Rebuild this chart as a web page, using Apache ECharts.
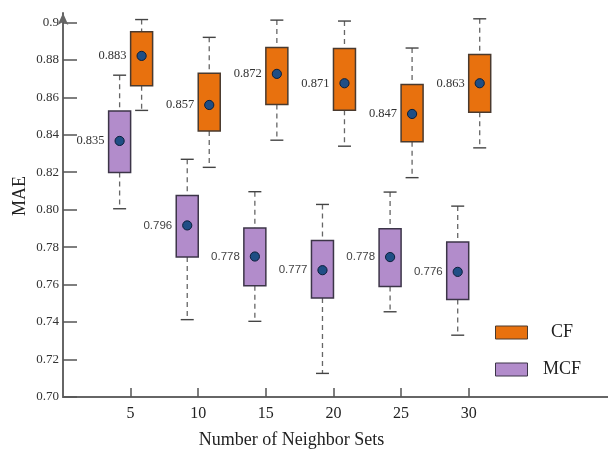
<!DOCTYPE html>
<html>
<head>
<meta charset="utf-8">
<script src="https://cdn.jsdelivr.net/npm/echarts@6/dist/echarts.min.js"></script>
<style>html,body{margin:0;padding:0;background:#fff}#c{width:608px;height:461px}</style>
</head>
<body>
<div id="c"></div>
<script>
// ---- data ----
var categories = [5, 10, 15, 20, 25, 30];
var cfMax = [0.9015, 0.8920, 0.9012, 0.9007, 0.8863, 0.9019];
var cfQ3  = [0.8950, 0.8729, 0.8866, 0.8861, 0.8668, 0.8829];
var cfMid = [0.8821, 0.8559, 0.8725, 0.8675, 0.8511, 0.8675];
var cfQ1  = [0.8661, 0.8420, 0.8561, 0.8531, 0.8362, 0.8520];
var cfMin = [0.8530, 0.8226, 0.8371, 0.8339, 0.8171, 0.8330];
var cfLabels = ['0.883', '0.857', '0.872', '0.871', '0.847', '0.863'];

var mcfMax = [0.8718, 0.8269, 0.8096, 0.8028, 0.8094, 0.8019];
var mcfQ3  = [0.8527, 0.8076, 0.7902, 0.7836, 0.7898, 0.7827];
var mcfMid = [0.8367, 0.7916, 0.7750, 0.7677, 0.7747, 0.7668];
var mcfQ1  = [0.8198, 0.7747, 0.7594, 0.7529, 0.7590, 0.7520];
var mcfMin = [0.8005, 0.7413, 0.7404, 0.7126, 0.7455, 0.7330];
var mcfLabels = ['0.835', '0.796', '0.778', '0.777', '0.778', '0.776'];

var yTickValues = [0.70, 0.72, 0.74, 0.76, 0.78, 0.80, 0.82, 0.84, 0.86, 0.88, 0.90];
var yTickLabels = ['0.70', '0.72', '0.74', '0.76', '0.78', '0.80', '0.82', '0.84', '0.86', '0.88', '0.9'];
var seriesNames = ['CF', 'MCF'];

// ---- build ----
function buildData(mn, q1, md, q3, mx) {
  return categories.map(function (c, i) { return [c, mn[i], q1[i], md[i], q3[i], mx[i]]; });
}
var SERIF = '"Liberation Serif", "DejaVu Serif", serif';
var SANS = '"Liberation Sans", Arial, sans-serif';

function makeRender(offset, fill, border, labels, sansFrom) {
  return function (params, api) {
    var x = api.value(0);
    var pMin = api.coord([x, api.value(1)]);
    var pQ1 = api.coord([x, api.value(2)]);
    var pMid = api.coord([x, api.value(3)]);
    var pQ3 = api.coord([x, api.value(4)]);
    var pMax = api.coord([x, api.value(5)]);
    var cx = pMin[0] + offset;
    var hw = 11, cap = 6.5;
    var dash = {stroke: '#666', lineWidth: 1.3, lineDash: [5, 4]};
    var capStyle = {stroke: '#444', lineWidth: 1.4};
    var useSans = sansFrom >= 0 && params.dataIndex >= sansFrom;
    return {
      type: 'group',
      children: [
        {type: 'line', shape: {x1: cx, y1: pMax[1], x2: cx, y2: pQ3[1]}, style: dash},
        {type: 'line', shape: {x1: cx, y1: pQ1[1], x2: cx, y2: pMin[1]}, style: dash},
        {type: 'line', shape: {x1: cx - cap, y1: pMax[1], x2: cx + cap, y2: pMax[1]}, style: capStyle},
        {type: 'line', shape: {x1: cx - cap, y1: pMin[1], x2: cx + cap, y2: pMin[1]}, style: capStyle},
        {type: 'rect', shape: {x: cx - hw, y: pQ3[1], width: hw * 2, height: pQ1[1] - pQ3[1]},
          style: {fill: fill, stroke: border, lineWidth: 1.5}},
        {type: 'circle', shape: {cx: cx, cy: pMid[1], r: 4.6},
          style: {fill: '#1f4e85', stroke: '#0b1f3a', lineWidth: 1}},
        {type: 'text', x: cx - hw - 4, y: pMid[1],
          style: {text: labels[params.dataIndex], align: 'right', verticalAlign: 'middle',
            fill: useSans ? '#444' : '#333',
            font: useSans ? ('11.5px ' + SANS) : ('12.5px ' + SERIF)}}
      ]
    };
  };
}

var CF_FILL = '#e8710e', CF_BORDER = '#4a3a2e';
var MCF_FILL = '#b28ccb', MCF_BORDER = '#3c3548';

var option = {
  animation: false,
  backgroundColor: '#fff',
  grid: {left: 63, right: 0, top: 13, bottom: 64, containLabel: false, outerBoundsMode: 'none'},
  legend: {
    orient: 'vertical', left: 490, top: 318.5, itemWidth: 32, itemHeight: 13, itemGap: 19,
    data: [
      {name: seriesNames[0], icon: 'rect', itemStyle: {color: CF_FILL, borderColor: CF_BORDER, borderWidth: 1}},
      {name: seriesNames[1], icon: 'rect', itemStyle: {color: MCF_FILL, borderColor: MCF_BORDER, borderWidth: 1}}
    ],
    formatter: function (n) { return '{a|' + n + '}'; },
    textStyle: {rich: {a: {width: 59, align: 'center', fontSize: 18, fontFamily: SERIF, color: '#222'}}}
  },
  xAxis: {
    type: 'value', min: 0, max: 40.3, interval: 5,
    name: 'Number of Neighbor Sets', nameLocation: 'middle', nameGap: 34, nameMoveOverlap: false,
    nameTextStyle: {fontFamily: SERIF, fontSize: 18, color: '#222', padding: [0, 88, 0, 0]},
    axisLine: {show: true, lineStyle: {color: '#666', width: 2}},
    axisTick: {show: true, inside: true, length: 9, customValues: categories, lineStyle: {color: '#555', width: 1.5}},
    axisLabel: {customValues: categories, margin: 9, fontFamily: SERIF, fontSize: 16, color: '#222'},
    splitLine: {show: false}
  },
  yAxis: {
    type: 'value', min: 0.70, max: 0.905,
    name: 'MAE', nameLocation: 'middle', nameGap: 34, nameMoveOverlap: false,
    nameTextStyle: {fontFamily: SERIF, fontSize: 18, color: '#222', padding: [0, 0, 0, 18]},
    axisLine: {show: true, symbol: ['none', 'arrow'], symbolSize: [8, 12], lineStyle: {color: '#666', width: 2}},
    axisTick: {show: true, inside: true, length: 14, customValues: yTickValues, lineStyle: {color: '#555', width: 1.5}},
    axisLabel: {customValues: yTickValues, margin: 4, fontFamily: SERIF, fontSize: 13, color: '#333',
      formatter: function (v) {
        var i = Math.round((v - yTickValues[0]) / 0.02);
        return yTickLabels[i] !== undefined ? yTickLabels[i] : '';
      }},
    splitLine: {show: false}
  },
  series: [
    {
      name: seriesNames[0], type: 'custom', itemStyle: {color: CF_FILL, borderColor: CF_BORDER},
      data: buildData(cfMin, cfQ1, cfMid, cfQ3, cfMax),
      encode: {x: 0, y: [1, 2, 3, 4, 5]},
      renderItem: makeRender(11, CF_FILL, CF_BORDER, cfLabels, -1),
      clip: false
    },
    {
      name: seriesNames[1], type: 'custom', itemStyle: {color: MCF_FILL, borderColor: MCF_BORDER},
      data: buildData(mcfMin, mcfQ1, mcfMid, mcfQ3, mcfMax),
      encode: {x: 0, y: [1, 2, 3, 4, 5]},
      renderItem: makeRender(-11, MCF_FILL, MCF_BORDER, mcfLabels, 1),
      clip: false
    }
  ]
};
var chart = echarts.init(document.getElementById('c'), null, {renderer: 'canvas'});
chart.setOption(option);
</script>
</body>
</html>
